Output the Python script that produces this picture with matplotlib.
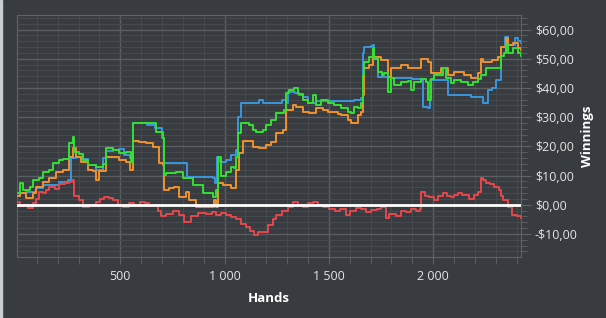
import matplotlib
matplotlib.use("Agg")
import matplotlib.pyplot as plt
from matplotlib.ticker import MultipleLocator, FuncFormatter
from matplotlib.patches import Rectangle

# data (hand, winnings in $)
blue_hands = [5, 17, 50, 98, 132, 208, 250, 265, 290, 314, 347, 385, 419, 433, 467, 495, 520, 548,
              562, 610, 630, 665, 700, 711, 810, 820, 945, 955, 965, 978, 1007, 1031, 1055, 1065,
              1079, 1103, 1151, 1165, 1184, 1265, 1275, 1295, 1305, 1340, 1357, 1376, 1400, 1440,
              1600, 1620, 1653, 1662, 1670, 1700, 1711, 1715, 1735, 1800, 1845, 1900, 1940, 1950,
              1975, 1985, 2060, 2070, 2100, 2165, 2180, 2227, 2241, 2255, 2265, 2280, 2300, 2323,
              2345, 2361, 2390, 2405, 2421]
blue_vals = [3, 4, 4.5, 5.8, 6.8, 7.8, 8.5, 16, 16.4, 15.8, 13.5, 12, 16, 18.5, 18.8, 19, 17, 16,
             28, 28, 27.3, 26.3, 22.8, 14.3, 14.3, 9.5, 9.2, 7.5, 16.4, 14.7, 15.4, 17, 18.8, 30,
             34.8, 35, 35, 35.8, 35, 35, 35.8, 34.8, 38.6, 38.3, 37.5, 36.9, 35, 35.5,
             35.5, 36, 36.5, 52, 54, 54.3, 54.6, 50, 43.7, 43.5, 43.3, 43, 42.7, 33.4,
             33, 42.7, 42.7, 37.5, 37.5, 37.5, 36.9, 36.9, 34.8, 34.8, 39.2, 40, 42.7, 54,
             57.3, 54.6, 57, 56, 55.3]

orange_hands = [5, 17, 50, 84, 98, 132, 160, 194, 227, 256, 275, 290, 314, 347, 371, 385, 400, 433,
                467, 495, 529, 548, 562, 590, 625, 658, 686, 706, 711, 735, 759, 783, 816, 830, 864,
                912, 950, 959, 969, 993, 1031, 1055, 1070, 1088, 1117, 1136, 1165, 1199, 1223, 1247,
                1280, 1295, 1328, 1342, 1376, 1405, 1438, 1471, 1495, 1543, 1557, 1591, 1605, 1639,
                1653, 1662, 1667, 1691, 1711, 1715, 1749, 1773, 1782, 1797, 1821, 1845, 1878, 1907,
                1930, 1940, 1974, 1988, 2003, 2036, 2050, 2070, 2098, 2146, 2180, 2213, 2227, 2241,
                2280, 2309, 2323, 2347, 2361, 2385, 2405, 2421]
orange_vals = [3, 4, 2.4, 4, 6, 7.8, 9.2, 11.3, 12, 16.4, 19.5, 16.4, 14.7, 12, 11.5, 8.5, 11.5, 16.4,
               16.4, 15.4, 14.7, 12, 22, 21.5, 21, 19.8, 14.3, 13.6, 5.1, 5.8, 6, 2.7, 4.4, 1.7, -0.7,
               -0.7, 1.7, -0.7, 7.5, 6.8, 5.8, 12, 17.7, 22, 22, 19.8, 19.5, 20.5, 21.5, 24.6,
               25.6, 32.4, 34, 33.4, 31.7, 31.4, 33, 32.4, 31.7, 31, 30.7, 29, 28, 30.7,
               31.7, 37.5, 46.8, 47.8, 50.2, 50.5, 49.5, 49.5, 43.7, 47, 46.8, 47.8, 46.8, 47,
               46.8, 50, 48.8, 45, 45.2, 47, 46.8, 44.4, 45.4, 44.4, 43.3, 45, 50, 48.8,
               49.5, 50.5, 54, 57, 54.6, 55.3, 53.6, 53]

green_hands = [5, 17, 36, 65, 84, 112, 132, 160, 179, 208, 227, 256, 275, 280, 304, 323, 347, 385,
               419, 433, 467, 495, 529, 553, 562, 672, 706, 711, 720, 768, 801, 849, 897, 945, 959,
               969, 983, 1007, 1031, 1046, 1055, 1065, 1079, 1103, 1117, 1136, 1151, 1184, 1199,
               1223, 1247, 1285, 1295, 1309, 1333, 1352, 1376, 1400, 1424, 1438, 1462, 1495, 1524,
               1557, 1591, 1605, 1619, 1639, 1653, 1662, 1667, 1691, 1711, 1715, 1735, 1754, 1763,
               1782, 1797, 1811, 1845, 1878, 1893, 1907, 1940, 1964, 1974, 1988, 2003, 2036, 2046,
               2060, 2084, 2098, 2132, 2165, 2189, 2213, 2227, 2251, 2285, 2309, 2323, 2338, 2347,
               2361, 2385, 2409, 2421]
green_vals = [4, 7.5, 5, 6, 8.5, 9.2, 11.3, 12, 14.3, 15.4, 15.8, 21, 23.2, 18, 17.5, 15.4, 13.6, 13,
              14, 19.5, 18.8, 17.7, 18, 14.7, 28, 25, 23, 10.2, 10.8, 11.3, 9.2, 6.8, 4, 2.7, 5,
              16.4, 10, 11.3, 13, 12.6, 16.4, 24.6, 28, 28, 27.3, 25.6, 25, 25.5, 27.3,
              29, 31.4, 32.4, 38.2, 39.2, 40, 38, 35.8, 34.8, 37.5, 34, 35.8, 35, 34,
              33, 31.7, 31.4, 33.4, 33, 35, 44.4, 48.8, 50.5, 53.6, 50, 45.4, 44.4, 45,
              38.6, 43.3, 41, 42, 42.3, 39.2, 42, 43, 42, 36, 43, 44.4, 44.4, 46.8,
              43.3, 41.6, 42.7, 42, 41, 42, 43, 44.4, 46.8, 46.8, 47, 51, 52, 55,
              52, 53.6, 52, 51]

red_hands = [5, 20, 40, 60, 80, 98, 110, 130, 145, 160, 185, 208, 235, 256, 270, 280, 300, 323, 350,
             385, 405, 423, 445, 467, 490, 514, 540, 567, 595, 620, 640, 663, 680, 696, 720, 754,
             780, 806, 840, 873, 910, 940, 959, 985, 1007, 1030, 1055, 1080, 1103, 1120, 1141,
             1160, 1184, 1210, 1230, 1247, 1275, 1304, 1328, 1350, 1376, 1400, 1424, 1450, 1471,
             1500, 1530, 1555, 1581, 1600, 1630, 1655, 1677, 1700, 1730, 1750, 1773, 1790, 1821,
             1845, 1870, 1892, 1920, 1935, 1940, 1960, 1980, 2003, 2025, 2046, 2065, 2084, 2100,
             2117, 2140, 2170, 2194, 2215, 2227, 2240, 2251, 2270, 2290, 2314, 2325, 2337, 2361,
             2380, 2400, 2421]
red_vals = [1, -0.5, 0, -1, 0.5, 2, 4.4, 4, 5, 6, 5.5, 7, 7.5, 7.8, 8.5, 3, 1.5, -0.7, 0,
            1, 2, 2.7, 2.3, 1.7, 0, -0.7, 0.5, -0.5, 0.8, 0.5, -0.3, 0, -2, -4, -3, -2,
            -3.5, -5.8, -4, -2.7, -3, -2.5, -3.4, -2.8, -3.4, -4.2, -5, -6.5, -7.5, -9, -10.2,
            -9.5, -9.2, -7, -5, -3.4, -2, -0.7, 1, 0, -0.7, 0.5, 1, 0, -0.7,
            -1.5, -2, -1.5, -3.4, -2, -1, -1.5, -2.5, -1.8, -1.5, -0.7, -4.4, -3, -4,
            -2, -2.5, -1.5, -2, -1.5, 4.4, 3, 2.5, 1.7, 3, 4, 3, 2.5, 3.5,
            4, 3.2, 2, 3.5, 4.5, 9.2, 8.5, 7.5, 7, 6, 5, 3, 1.7, -0.7,
            -3.4, -4, -4.4]

bg = "#383b3f"
txt = "#e4e4e4"

fig = plt.figure(figsize=(6.06, 3.18), dpi=100, facecolor=bg)
ax = fig.add_axes([17 / 606, 1 - 257 / 318, 504 / 606, 242 / 318])
ax.set_facecolor(bg)
fig.patches.append(Rectangle((0, 0), 2 / 606, 1, transform=fig.transFigure,
                             color="#c9cdd4", zorder=0))

ax.step(blue_hands, blue_vals, where="post", color="#3a97dc", lw=1.4, zorder=3)
ax.step(orange_hands, orange_vals, where="post", color="#f0922e", lw=1.4, zorder=4)
ax.step(green_hands, green_vals, where="post", color="#35df35", lw=1.4, zorder=5)
ax.step(red_hands, red_vals, where="post", color="#e5474b", lw=1.4, zorder=5)
ax.axhline(0, color="white", lw=2.0, zorder=6)

ax.set_xlim(5, 2421)
ax.set_ylim(-17.9, 65)
ax.xaxis.set_major_locator(MultipleLocator(500))
ax.xaxis.set_minor_locator(MultipleLocator(100))
ax.yaxis.set_major_locator(MultipleLocator(10))
ax.yaxis.set_minor_locator(MultipleLocator(2))

ax.xaxis.set_major_formatter(FuncFormatter(lambda v, p: f"{int(v):,}".replace(",", " ")))
def money(v, p):
    s = f"${abs(v):.2f}".replace(".", ",")
    return "-" + s if v < 0 else s
ax.yaxis.set_major_formatter(FuncFormatter(money))

ax.grid(which="major", color="#5a5d61", lw=1.0, zorder=1)
ax.grid(which="minor", color="#46494d", lw=0.8, zorder=1)
ax.set_axisbelow(True)

ax.yaxis.tick_right()
ax.yaxis.set_label_position("right")
ax.tick_params(which="both", colors="#5f6367", labelcolor=txt, labelsize=9)
ax.tick_params(axis="y", which="major", length=7, pad=3)
ax.tick_params(axis="y", which="minor", length=4)
ax.tick_params(axis="x", which="both", length=5, pad=4)
for lab in ax.get_xticklabels() + ax.get_yticklabels():
    lab.set_family("Open Sans")
for s in ax.spines.values():
    s.set_color("#5f6367")

ax.set_xlabel("Hands", color="white", fontsize=9.5, fontweight="bold",
              family="Open Sans", labelpad=7)
ax.set_ylabel("Winnings", color="white", fontsize=9.5, fontweight="bold",
              family="Open Sans", labelpad=2)

fig.savefig("out.png", dpi=100, facecolor=bg)
